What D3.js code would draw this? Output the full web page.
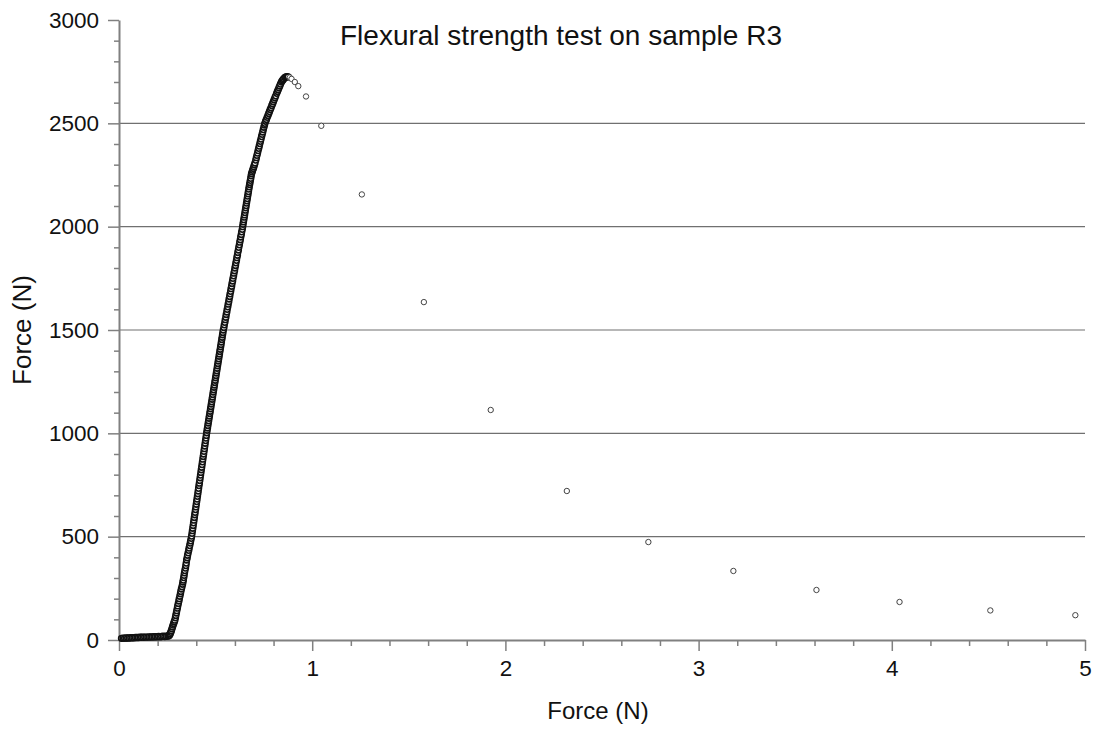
<!DOCTYPE html>
<html>
<head>
<meta charset="utf-8">
<script src="https://cdn.jsdelivr.net/npm/d3@7"></script>
<style>
  body { margin: 0; background: #fff; }
  text { font-family: "Liberation Sans", Arial, sans-serif; }
</style>
</head>
<body>
<div id="vis-container"></div>
<script>
// Tick values
const xTicks = [0, 1, 2, 3, 4, 5];
const xMinor = [0.2, 0.4, 0.6, 0.8, 1.2, 1.4, 1.6, 1.8, 2.2, 2.4, 2.6, 2.8, 3.2, 3.4, 3.6, 3.8, 4.2, 4.4, 4.6, 4.8];
const yTicks = [0, 500, 1000, 1500, 2000, 2500, 3000];
const yMinor = [100, 200, 300, 400, 600, 700, 800, 900, 1100, 1200, 1300, 1400, 1600, 1700, 1800, 1900,
                2100, 2200, 2300, 2400, 2600, 2700, 2800, 2900];
const gridValues = [500, 1000, 1500, 2000, 2500];

// flat start of the test
const flatX = [0.013, 0.021, 0.029, 0.037, 0.045, 0.053, 0.061, 0.069, 0.077, 0.085, 0.093, 0.101, 0.109, 0.117, 0.125,
               0.133, 0.141, 0.149, 0.157, 0.165, 0.173, 0.181, 0.189, 0.197, 0.205, 0.213, 0.221, 0.229, 0.237, 0.245, 0.253];
const flatY = [8, 9, 9, 10, 10, 10, 11, 11, 11, 12, 12, 12, 13, 13, 13,
               14, 14, 14, 15, 15, 15, 16, 16, 16, 17, 16, 17, 18, 17, 18, 19];

// loading part up to the peak
const riseX = [0.258, 0.262, 0.265, 0.268, 0.271, 0.274, 0.277, 0.280, 0.283, 0.286, 0.289,
  0.292, 0.294, 0.297, 0.299, 0.302, 0.304, 0.307,
  0.310, 0.312, 0.315, 0.318, 0.320, 0.323, 0.326, 0.329, 0.331, 0.333,
  0.335, 0.337, 0.339, 0.341, 0.344, 0.346, 0.348, 0.350,
  0.353, 0.355, 0.358, 0.361, 0.363, 0.366, 0.369, 0.371, 0.374, 0.376,
  0.378, 0.380, 0.382, 0.384, 0.386, 0.388, 0.390, 0.392, 0.394, 0.396, 0.398, 0.400, 0.402, 0.404, 0.406, 0.408,
  0.410, 0.412, 0.414, 0.416, 0.418, 0.420, 0.422, 0.424, 0.426, 0.428, 0.430, 0.432, 0.434, 0.436, 0.438, 0.440,
  0.442, 0.444, 0.446, 0.448, 0.450, 0.452, 0.454,
  0.456, 0.458, 0.460, 0.462, 0.464, 0.466, 0.468, 0.470, 0.472, 0.474, 0.476, 0.478, 0.480, 0.482, 0.484, 0.486,
  0.488, 0.490, 0.492, 0.494, 0.496, 0.498, 0.500, 0.502, 0.504, 0.506, 0.508, 0.510, 0.512, 0.514, 0.516, 0.518,
  0.520, 0.522, 0.524, 0.526, 0.528, 0.530, 0.532, 0.534, 0.536, 0.538, 0.540,
  0.543, 0.545, 0.548, 0.550, 0.553, 0.555, 0.558, 0.560, 0.563, 0.565, 0.568, 0.570, 0.573, 0.575, 0.578, 0.580,
  0.583, 0.585, 0.588, 0.590, 0.593, 0.595, 0.598, 0.600, 0.603, 0.605, 0.608, 0.610, 0.613, 0.615, 0.618, 0.620,
  0.623, 0.625, 0.628, 0.630, 0.633, 0.635, 0.638, 0.640,
  0.642, 0.644, 0.646, 0.648, 0.650, 0.652, 0.654, 0.656, 0.658, 0.660, 0.662, 0.664, 0.666, 0.668, 0.670, 0.672,
  0.674, 0.676, 0.678, 0.680, 0.682, 0.684, 0.686,
  0.689, 0.692, 0.695, 0.698, 0.701, 0.704, 0.708,
  0.711, 0.714, 0.717, 0.720, 0.723, 0.726, 0.729, 0.732, 0.735, 0.738, 0.741, 0.744, 0.747, 0.750, 0.753, 0.755,
  0.759, 0.763, 0.767, 0.771, 0.775, 0.779, 0.783, 0.787, 0.791, 0.795, 0.799, 0.803, 0.807, 0.811, 0.816,
  0.820, 0.824, 0.828, 0.832, 0.836, 0.841, 0.845, 0.849, 0.853, 0.859, 0.864, 0.870, 0.876];
const riseY = [20, 24, 30, 37, 45, 54, 63, 72, 80, 88, 96,
  108, 119, 131, 142, 154, 165, 177,
  189, 200, 212, 224, 235, 247, 258, 270, 281, 290,
  302, 313, 325, 336, 348, 360, 372, 387,
  398, 410, 422, 434, 445, 457, 469, 480, 492, 503,
  516, 529, 541, 554, 567, 580, 593, 606, 618, 631, 644, 657, 670, 682, 695, 708,
  721, 734, 747, 759, 772, 785, 798, 811, 824, 836, 849, 862, 875, 888, 900, 913,
  926, 939, 952, 965, 977, 990, 1003,
  1015, 1026, 1038, 1050, 1061, 1073, 1084, 1096, 1107, 1119, 1130, 1142, 1153, 1165, 1176, 1188,
  1200, 1211, 1223, 1234, 1246, 1257, 1269, 1280, 1292, 1303, 1315, 1327, 1338, 1350, 1361, 1373,
  1384, 1396, 1407, 1419, 1430, 1442, 1454, 1465, 1477, 1488, 1500,
  1512, 1525, 1537, 1550, 1562, 1575, 1587, 1600, 1612, 1625, 1637, 1650, 1662, 1675, 1687, 1700,
  1712, 1725, 1737, 1750, 1762, 1775, 1787, 1800, 1812, 1825, 1837, 1850, 1862, 1875, 1887, 1900,
  1912, 1925, 1937, 1950, 1962, 1975, 1987, 2000,
  2012, 2023, 2034, 2046, 2057, 2068, 2080, 2091, 2102, 2114, 2125, 2136, 2148, 2159, 2170, 2182,
  2193, 2204, 2214, 2224, 2234, 2246, 2256,
  2265, 2273, 2282, 2290, 2299, 2308, 2322,
  2334, 2345, 2356, 2368, 2379, 2390, 2402, 2413, 2424, 2436, 2447, 2458, 2470, 2481, 2492, 2500,
  2510, 2519, 2529, 2538, 2548, 2557, 2567, 2576, 2586, 2595, 2605, 2614, 2624, 2633, 2645,
  2654, 2663, 2672, 2681, 2690, 2700, 2706, 2711, 2716, 2722, 2724, 2726, 2725];

// after failure, sparse points
const tailX = [0.884, 0.893, 0.910, 0.928, 0.968, 1.047, 1.257, 1.578, 1.924, 2.318, 2.740, 3.180, 3.610, 4.040, 4.510, 4.950];
const tailY = [2722, 2715, 2700, 2680, 2630, 2488, 2156, 1635, 1113, 721, 474, 334, 242, 184, 143, 120];

const width = 1097;
const height = 731;
const margin = { top: 20, right: 12, bottom: 91, left: 119 };

const svg = d3.select("#vis-container")
              .append("svg")
              .attr("width", width)
              .attr("height", height);

let densePoints = [];
for (let i = 0; i < flatX.length; i++) densePoints.push({x: flatX[i], y: flatY[i]});
for (let i = 0; i < riseX.length; i++) densePoints.push({x: riseX[i], y: riseY[i]});
let tailPoints = [];
for (let i = 0; i < tailX.length; i++) tailPoints.push({x: tailX[i], y: tailY[i]});

// scales
const x = d3.scaleLinear()
            .domain([0, 5])
            .range([margin.left, width - margin.right]);
const y = d3.scaleLinear()
            .domain([0, 3000])
            .range([height - margin.bottom, margin.top]);

const axisColor = "#808080";

// grid lines
svg.append("g")
   .selectAll("line")
   .data(gridValues)
   .join("line")
     .attr("x1", x(0))
     .attr("x2", x(5))
     .attr("y1", d => y(d))
     .attr("y2", d => y(d))
     .attr("stroke", "#707070")
     .attr("stroke-width", 1.2);

// minor ticks
svg.append("g")
   .attr("transform", `translate(0,${y(0)})`)
   .call(d3.axisBottom(x).tickValues(xMinor).tickSize(6).tickFormat(""))
   .call(g => g.select(".domain").remove());
svg.append("g")
   .attr("transform", `translate(${x(0)},0)`)
   .call(d3.axisLeft(y).tickValues(yMinor).tickSize(5).tickFormat(""))
   .call(g => g.select(".domain").remove());

// x axis
svg.append("g")
   .attr("class", "axis")
   .attr("transform", `translate(0,${y(0)})`)
   .call(d3.axisBottom(x).tickValues(xTicks).tickSize(11).tickSizeOuter(0).tickPadding(9).tickFormat(d3.format("d")))
   .attr("font-size", "22.5px")
   .call(g => g.append("text")
               .attr("x", 598)
               .attr("y", 79)
               .attr("fill", "#111")
               .attr("text-anchor", "middle")
               .attr("font-size", "24px")
               .text("Force (N)"));

// y axis
svg.append("g")
   .attr("class", "axis")
   .attr("transform", `translate(${x(0)},0)`)
   .call(d3.axisLeft(y).tickValues(yTicks).tickSize(11).tickSizeOuter(0).tickPadding(9).tickFormat(d3.format("d")))
   .attr("font-size", "22.5px");

svg.append("text")
   .attr("transform", `translate(31,${(y(0) + y(3000)) / 2}) rotate(-90)`)
   .attr("text-anchor", "middle")
   .attr("fill", "#111")
   .attr("font-size", "26px")
   .text("Force (N)");

svg.selectAll(".axis text").attr("font-family", "Liberation Sans, Arial, sans-serif");
svg.selectAll("g line").filter(function() { return this.parentNode.classList.contains("tick"); })
   .attr("stroke", axisColor).attr("stroke-width", 1.5);
svg.selectAll(".domain").attr("stroke", axisColor).attr("stroke-width", 2);
svg.selectAll(".tick text").attr("fill", "#111");

// title
svg.append("text")
   .attr("x", 561)
   .attr("y", 45)
   .attr("text-anchor", "middle")
   .attr("font-size", "28px")
   .attr("fill", "#111")
   .text("Flexural strength test on sample R3");

// data points: dense loading curve
svg.append("g")
   .selectAll("circle")
   .data(densePoints)
   .join("circle")
     .attr("cx", d => x(d.x))
     .attr("cy", d => y(d.y))
     .attr("r", 2.9)
     .attr("fill", "white")
     .attr("stroke", "#111")
     .attr("stroke-width", 1.6);

// data points: post-peak
svg.append("g")
   .selectAll("circle")
   .data(tailPoints)
   .join("circle")
     .attr("cx", d => x(d.x))
     .attr("cy", d => y(d.y))
     .attr("r", 2.7)
     .attr("fill", "white")
     .attr("stroke", "#444")
     .attr("stroke-width", 1);
</script>
</body>
</html>
